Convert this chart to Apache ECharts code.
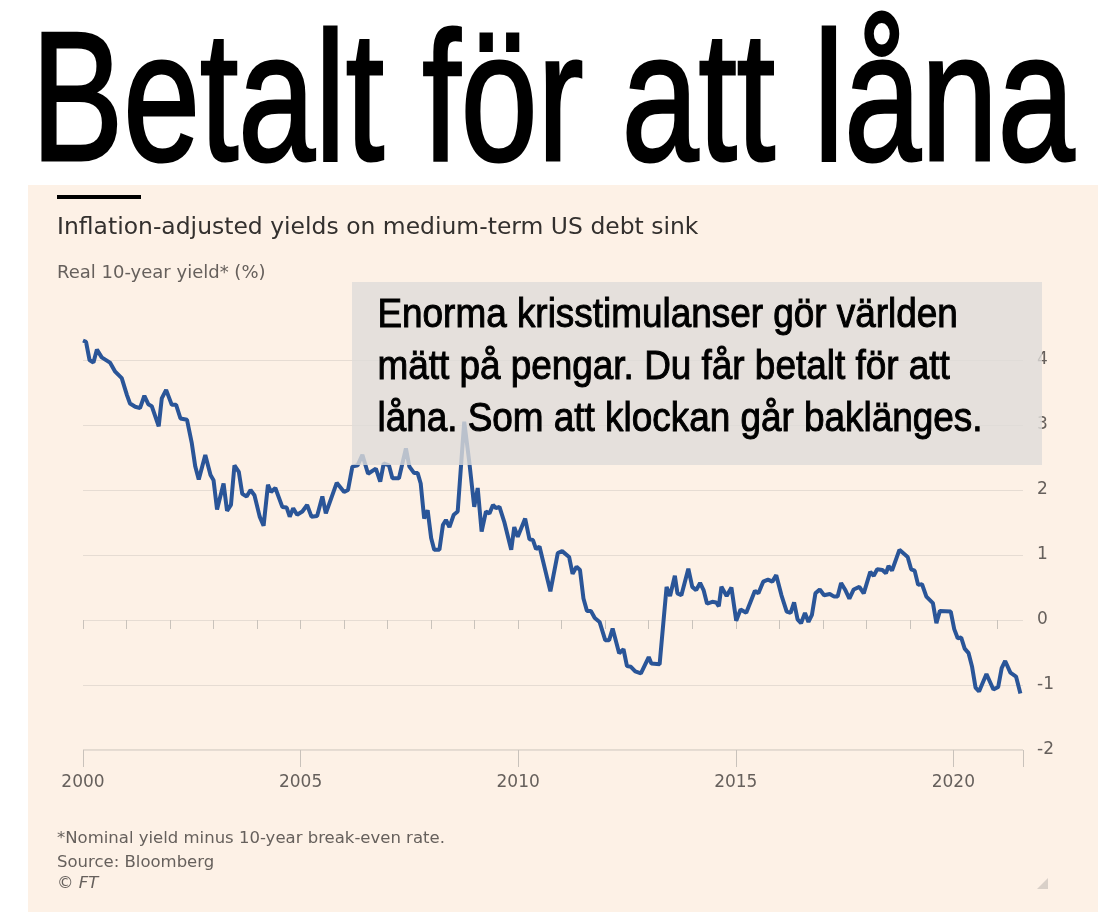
<!DOCTYPE html>
<html><head><meta charset="utf-8">
<script src="https://cdn.jsdelivr.net/npm/echarts@6/dist/echarts.min.js"></script>
<style>html,body{margin:0;padding:0;background:#fff}#c{width:1114px;height:914px}</style>
</head><body><div id="c"></div>
<script>
const years = [2000,2000.07,2000.15,2000.24,2000.32,2000.43,2000.62,2000.74,2000.89,2001.01,2001.08,2001.20,2001.31,2001.41,2001.50,2001.58,2001.74,2001.81,2001.91,2002.04,2002.14,2002.24,2002.39,2002.50,2002.58,2002.66,2002.81,2002.93,2003.00,2003.08,2003.23,2003.31,2003.40,2003.48,2003.58,2003.66,2003.76,2003.85,2003.94,2004.06,2004.15,2004.25,2004.32,2004.42,2004.58,2004.68,2004.75,2004.83,2004.92,2005.04,2005.15,2005.25,2005.38,2005.50,2005.58,2005.83,2006.00,2006.09,2006.19,2006.31,2006.42,2006.55,2006.73,2006.83,2006.91,2007.03,2007.11,2007.26,2007.42,2007.50,2007.61,2007.69,2007.76,2007.84,2007.92,2008.00,2008.07,2008.19,2008.27,2008.34,2008.42,2008.52,2008.61,2008.76,2008.88,2008.99,2009.07,2009.16,2009.26,2009.34,2009.42,2009.49,2009.57,2009.68,2009.84,2009.91,2009.99,2010.16,2010.26,2010.34,2010.41,2010.49,2010.74,2010.91,2011.01,2011.17,2011.25,2011.34,2011.42,2011.50,2011.58,2011.67,2011.76,2011.87,2012.00,2012.09,2012.17,2012.32,2012.42,2012.50,2012.59,2012.69,2012.82,2013.00,2013.06,2013.25,2013.41,2013.49,2013.60,2013.66,2013.75,2013.91,2014.00,2014.09,2014.18,2014.26,2014.34,2014.46,2014.55,2014.61,2014.67,2014.79,2014.90,2015.01,2015.11,2015.24,2015.44,2015.52,2015.63,2015.74,2015.84,2015.93,2016.05,2016.17,2016.26,2016.34,2016.42,2016.50,2016.59,2016.67,2016.75,2016.83,2016.93,2017.03,2017.16,2017.26,2017.34,2017.42,2017.51,2017.61,2017.71,2017.84,2017.94,2018.09,2018.17,2018.25,2018.37,2018.45,2018.51,2018.59,2018.76,2018.95,2019.03,2019.11,2019.19,2019.28,2019.38,2019.53,2019.61,2019.69,2019.94,2020.02,2020.10,2020.18,2020.26,2020.35,2020.43,2020.51,2020.59,2020.76,2020.92,2021.03,2021.11,2021.19,2021.31,2021.44,2021.54];
const yields = [4.30,4.28,4.0,3.96,4.16,4.04,3.96,3.82,3.72,3.46,3.33,3.28,3.26,3.45,3.32,3.29,2.98,3.41,3.54,3.31,3.31,3.10,3.08,2.72,2.36,2.16,2.54,2.23,2.15,1.70,2.10,1.68,1.77,2.38,2.28,1.94,1.90,2.0,1.92,1.59,1.45,2.08,1.97,2.03,1.74,1.73,1.59,1.72,1.62,1.67,1.77,1.59,1.60,1.90,1.64,2.11,1.97,2.0,2.36,2.38,2.54,2.25,2.33,2.13,2.41,2.38,2.18,2.18,2.64,2.36,2.26,2.26,2.10,1.56,1.69,1.26,1.08,1.08,1.46,1.54,1.43,1.62,1.67,3.05,2.41,1.74,2.03,1.36,1.67,1.64,1.77,1.72,1.74,1.51,1.08,1.43,1.28,1.56,1.24,1.23,1.09,1.13,0.44,1.03,1.06,0.97,0.71,0.82,0.77,0.33,0.14,0.14,0.03,-0.03,-0.31,-0.31,-0.13,-0.51,-0.45,-0.71,-0.72,-0.79,-0.82,-0.57,-0.67,-0.68,0.51,0.37,0.68,0.41,0.38,0.79,0.51,0.46,0.57,0.46,0.25,0.28,0.27,0.21,0.51,0.37,0.50,-0.01,0.16,0.11,0.45,0.41,0.59,0.62,0.59,0.69,0.38,0.13,0.11,0.27,0.01,-0.05,0.11,-0.03,0.08,0.41,0.47,0.38,0.40,0.36,0.36,0.57,0.47,0.33,0.47,0.51,0.41,0.74,0.68,0.78,0.77,0.72,0.83,0.76,1.08,0.97,0.78,0.76,0.54,0.55,0.36,0.26,-0.05,0.14,0.13,-0.14,-0.28,-0.27,-0.44,-0.51,-0.72,-1.04,-1.10,-0.83,-1.07,-1.03,-0.74,-0.63,-0.81,-0.87,-1.13];
const yTicks = [-2,-1,0,1,2,3,4];
const xLabels = [2000,2005,2010,2015,2020];
const title = 'Betalt för att låna';
const subtitle = 'Inflation-adjusted yields on medium-term US debt sink';
const axisTitle = 'Real 10-year yield* (%)';
const callout = ['Enorma krisstimulanser gör världen','mätt på pengar. Du får betalt för att','låna. Som att klockan går baklänges.'];
const footer = ['*Nominal yield minus 10-year break-even rate.','Source: Bloomberg','© FT'];

const chart = echarts.init(document.getElementById('c'));
const F = 'DejaVu Sans, sans-serif';
const COND = 'Liberation Sans Narrow, Liberation Sans, sans-serif';
chart.setOption({
  backgroundColor:'#ffffff',
  animation:false,
  grid:{left:83,right:91,top:360,bottom:164},
  xAxis:[{type:'value',min:2000,max:2021.6,interval:1,
    axisLine:{show:false},splitLine:{show:false},
    axisTick:{show:true,length:9,lineStyle:{color:'#c9c2bb'}},
    axisLabel:{show:true,margin:24,color:'#66605c',fontSize:17,fontFamily:F,
      formatter:v=>xLabels.includes(Math.round(v))&&Math.abs(v-Math.round(v))<1e-6?String(Math.round(v)):'',
      showMaxLabel:false}},
   {type:'value',min:2000,max:2021.6,interval:5,position:'bottom',
    axisLine:{show:false},splitLine:{show:false},axisLabel:{show:false},
    axisTick:{show:true,length:17,lineStyle:{color:'#c9c2bb'}}}],
  yAxis:{type:'value',min:-2,max:4,interval:1,position:'right',
    axisLine:{show:false},axisTick:{show:false},
    axisLabel:{color:'#66605c',fontSize:17,fontFamily:F,margin:14,align:'left'},
    splitLine:{lineStyle:{color:'#e6dcd3',width:1}}},
  graphic:[
    {type:'text',left:30,top:16,style:{text:title,font:'184px '+COND,fill:'#000',stroke:'#000',lineWidth:3},scaleX:0.75,z:10},
    {type:'rect',shape:{x:28,y:185,width:1070,height:727},style:{fill:'#fdf1e6'},z:-10},
    {type:'rect',shape:{x:57,y:195,width:84,height:4},style:{fill:'#000'}},
    {type:'text',left:57,top:217,scaleX:1.02,style:{text:subtitle,font:'23px '+F,fill:'#33302e'}},
    {type:'text',left:57,top:264,style:{text:axisTitle,font:'18px '+F,fill:'#66605c'}},
    {type:'rect',shape:{x:352,y:282,width:690,height:183},style:{fill:'rgba(222,220,217,0.8)'},z:50},
    {type:'text',left:377,top:290,z:51,scaleX:0.9,style:{text:callout.join('\n'),font:'41px '+COND,fill:'#000',stroke:'#000',lineWidth:1,lineHeight:52}},
    {type:'text',left:57,top:827,style:{text:footer[0]+'\n'+footer[1],font:'16.5px '+F,fill:'#66605c',lineHeight:24}},
    {type:'text',left:57,top:875,style:{text:footer[2],font:'italic 16.5px '+F,fill:'#66605c'}},
    {type:'polygon',shape:{points:[[1048,878],[1048,889],[1037,889]]},style:{fill:'#d9d0c8'}},
    {type:'line',shape:{x1:83,y1:750,x2:1023,y2:750},style:{stroke:'#c9c2bb',lineWidth:1}}
  ],
  series:[{type:'line',data:years.map((y,i)=>[y,yields[i]]),showSymbol:false,clip:false,
    lineStyle:{color:'#2a5598',width:4},z:5}]
});
</script></body></html>
